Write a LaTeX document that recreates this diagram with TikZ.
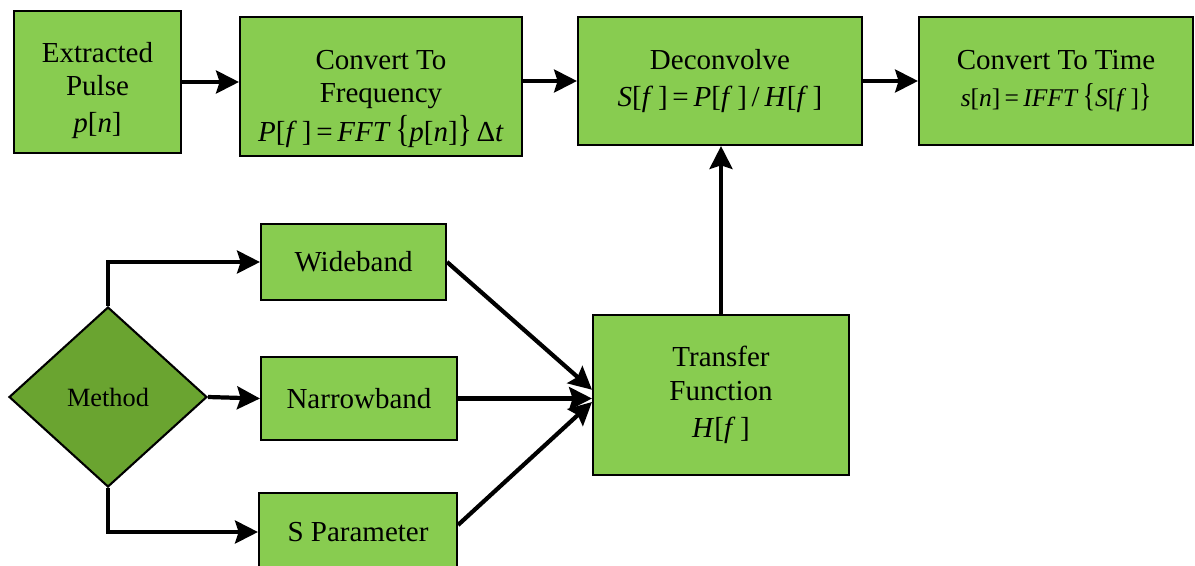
\documentclass[tikz,border=0pt]{standalone}
\usepackage{fontspec}
\setmainfont{Liberation Serif}
\usepackage{xcolor}
\usepackage{tikz}
\usetikzlibrary{shapes.geometric, arrows.meta}

\definecolor{boxGreen}{RGB}{136,204,80}
\definecolor{diaGreen}{RGB}{106,164,48}
\newcommand{\mi}[1]{\textit{#1}}
\newcommand{\bigbr}[1]{\scalebox{1}[1.3]{#1}}

\begin{document}
\begin{tikzpicture}[
        x=0.02cm, y=-0.02cm,
        block/.style={rectangle, draw=black, fill=boxGreen, line width=1.2pt, text centered, align=center, inner sep=2pt, font=\fontsize{16.5}{19}\selectfont},
        decision/.style={diamond, draw=black, fill=diaGreen, line width=1.2pt, inner sep=0pt, minimum width=3.96cm, minimum height=3.6cm, font=\fontsize{15}{18}\selectfont},
        arrow/.style={-{Stealth[length=13pt, width=13pt, inset=2pt]}, line width=2.4pt}
    ]
        \useasboundingbox (0,0) rectangle (1195,565);

        % ========== SIGNAL CHAIN (Top Row) ==========
        \node[block, minimum width=3.34cm, minimum height=2.84cm] (pulse) at (97.5,82) {\rule{0pt}{21pt}Extracted\\Pulse\\[2pt]\mi{p}[\mi{n}]};
        \node[block, minimum width=5.64cm, minimum height=2.78cm] (toFreq) at (381,86.5) {\rule{0pt}{25pt}Convert To\\Frequency\\[3pt]\mi{P}[\mi{f}\,]\,=\,\mi{FFT}\,\bigbr{\{}\mi{p}[\mi{n}]\bigbr{\}}\,Δ\mi{t}};
        \node[block, minimum width=5.68cm, minimum height=2.56cm] (deconv) at (720,81) {Deconvolve\\[2pt]\mi{S}[\mi{f}\,]\,=\,\mi{P}[\mi{f}\,]\,/\,\mi{H}[\mi{f}\,]};
        \node[block, minimum width=5.48cm, minimum height=2.56cm] (toTime) at (1056,81) {Convert To Time\\[2pt]{\fontsize{14.5}{17}\selectfont\mi{s}[\mi{n}]\,=\,\mi{IFFT}\,\bigbr{\{}\mi{S}[\mi{f}\,]\bigbr{\}}}};

        % Top row flow
        \draw[arrow] (pulse.east) -- (pulse.east -| toFreq.west);
        \draw[arrow] (toFreq.east |- deconv) -- (deconv.west);
        \draw[arrow] (deconv.east) -- (toTime.west);

        % ========== METHOD SELECTION (Bottom Left) ==========
        \node[decision] (method) at (108,397) {Method};
        \node[block, minimum width=3.7cm, minimum height=1.52cm] (wide) at (353.5,262) {Wideband};
        \node[block, minimum width=3.92cm, minimum height=1.66cm] (narrow) at (359,398.5) {Narrowband};
        \node[block, minimum width=3.96cm, minimum height=1.56cm] (spar) at (358,532) {S Parameter};

        % Method to each option
        \draw[arrow] (method.north) |- (wide.west);
        \draw[arrow] (method.east) -- (narrow.west);
        \draw[arrow] (method.south) |- (spar.west);

        % ========== TRANSFER FUNCTION ==========
        \node[block, minimum width=5.12cm, minimum height=3.2cm] (transfer) at (721,395) {Transfer\\Function\\[2pt]\mi{H}[\mi{f}\,]};

        % Options into transfer function
        \draw[arrow] (wide.east) -- ([yshift=3pt]transfer.west);
        \draw[arrow] (narrow.east) -- (narrow.east -| transfer.west);
        \draw[arrow] ([yshift=4pt]spar.east) -- ([yshift=-4pt]transfer.west);

        % Transfer function up to deconvolve
        \draw[arrow] (transfer.north) -- (transfer.north |- deconv.south);

    \end{tikzpicture}
\end{document}
